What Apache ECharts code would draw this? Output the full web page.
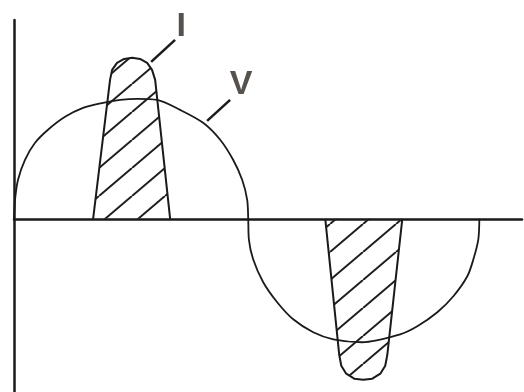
<!DOCTYPE html>
<html>
<head>
<meta charset="utf-8">
<style>
html,body{margin:0;padding:0;background:#fff;}
#chart{width:524px;height:392px;}
</style>
<script src="https://cdn.jsdelivr.net/npm/echarts@6/dist/echarts.min.js"></script>
</head>
<body>
<div id="chart"></div>
<script>
// Voltage wave V (phase angle in degrees, relative amplitude)
var vAngles = [0,0.8,3.1,8.5,16.3,26.3,39.5,53.4,68.9,82.1,95.2,110.7,128.5,146.3,159.5,169.5,176.5,180.4,181.2,
               181.7,185.0,192.8,203.6,216.0,231.5,247.0,269.4,298.8,312.0,327.5,339.9,350.7,355.4,359.2,360.0];
var vValues = [0,0.156,0.320,0.484,0.623,0.730,0.836,0.910,0.951,0.975,0.984,0.975,0.893,0.787,0.648,0.484,0.320,0.156,0,
               -0.168,-0.332,-0.520,-0.684,-0.824,-0.930,-0.988,-1.012,-0.947,-0.881,-0.766,-0.635,-0.471,-0.332,-0.168,0];

// Current pulse I (positive half cycle)
var pulse1Angles = [61.2,74.3,75.9,79.7,85.2,91.4,97.5,103.0,106.8,109.2,120.8];
var pulse1Values = [0,1.139,1.221,1.279,1.311,1.320,1.311,1.279,1.221,1.139,0];

// Current pulse I (negative half cycle)
var pulse2Angles = [240.8,251.6,253.2,257.0,263.2,270.2,277.2,283.4,287.2,288.8,300.4];
var pulse2Values = [0,-1.115,-1.205,-1.270,-1.311,-1.320,-1.311,-1.270,-1.205,-1.115,0];

// Labels and leader lines
var labelNames = ['I','V'];
var labelAngles = [129.3,175.7];
var labelValues = [1.574,1.098];
var leaderI = [[124.6,1.467],[106.1,1.287]];
var leaderV = [[167.2,0.975],[149.4,0.803]];

function zip(a,b){return a.map(function(x,i){return [x,b[i]];});}

// hatch pattern
var tile = document.createElement('canvas');
var tw = 33, th = 28;
tile.width = tw; tile.height = th;
var ctx = tile.getContext('2d');
ctx.strokeStyle = '#1e1e1e';
ctx.lineWidth = 2;
[-tw,0,tw].forEach(function(o){
  ctx.beginPath();
  ctx.moveTo(o, th);
  ctx.lineTo(o+tw, 0);
  ctx.stroke();
});

var chart = echarts.init(document.getElementById('chart'), null, {renderer:'canvas'});
var black = '#1a1a1a';
chart.setOption({
  animation:false,
  backgroundColor:'#ffffff',
  grid:{left:14,right:2,top:20,bottom:0},
  xAxis:{type:'value',min:0,max:393,
    axisLine:{show:true,onZero:true,lineStyle:{color:black,width:2.5}},
    axisTick:{show:false},axisLabel:{show:false},splitLine:{show:false}},
  yAxis:{type:'value',min:-1.42,max:1.63,
    axisLine:{show:true,onZero:false,lineStyle:{color:black,width:2.5}},
    axisTick:{show:false},axisLabel:{show:false},splitLine:{show:false}},
  series:[
    {type:'line',name:'V',data:zip(vAngles,vValues),smooth:0.3,showSymbol:false,
      lineStyle:{color:black,width:1.8},z:2},
    {type:'line',name:'I1',data:zip(pulse1Angles,pulse1Values),smooth:false,showSymbol:false,
      lineStyle:{color:black,width:2},
      areaStyle:{color:{image:tile,repeat:'repeat'},opacity:1,origin:0},z:3},
    {type:'line',name:'I2',data:zip(pulse2Angles,pulse2Values),smooth:false,showSymbol:false,
      lineStyle:{color:black,width:2},
      areaStyle:{color:{image:tile,repeat:'repeat'},opacity:1,origin:0},z:3},
    {type:'line',name:'leaderI',data:leaderI,showSymbol:false,
      lineStyle:{color:black,width:2.5},z:4},
    {type:'line',name:'leaderV',data:leaderV,showSymbol:false,
      lineStyle:{color:black,width:2.5},z:4},
    {type:'scatter',name:'labels',symbolSize:0,
      data:labelNames.map(function(n,i){return {name:n,value:[labelAngles[i],labelValues[i]]};}),
      label:{show:true,position:'inside',formatter:'{b}',color:'#2a2520',
        fontFamily:'Liberation Sans',fontWeight:'bold',fontSize:34},z:5}
  ]
});
</script>
</body>
</html>
